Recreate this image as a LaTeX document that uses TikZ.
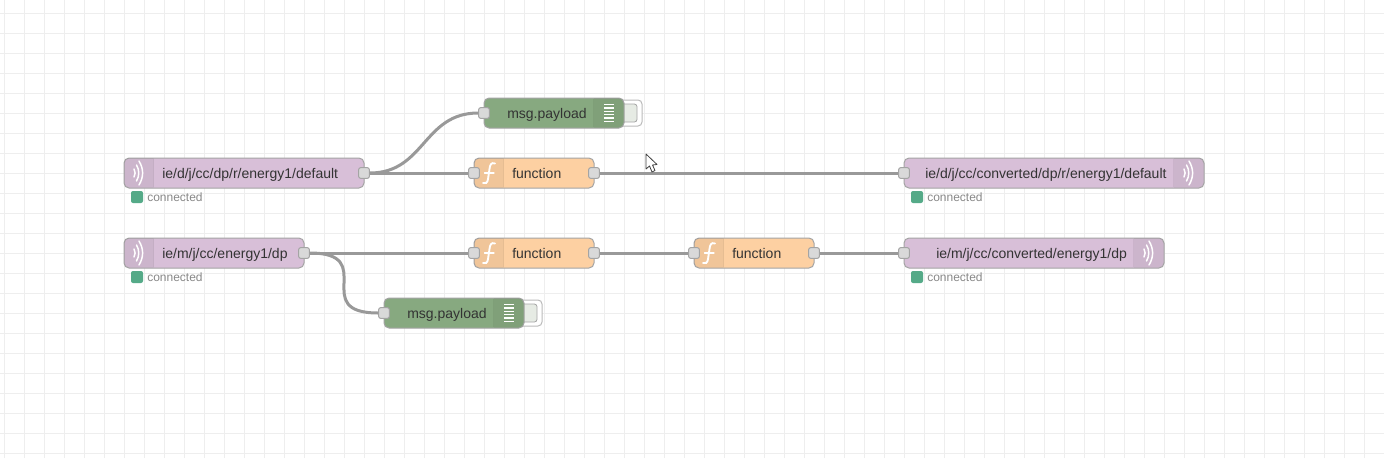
\documentclass[tikz,border=0pt]{standalone}
\usepackage{fontspec}
\setmainfont{Liberation Sans}
\definecolor{gridc}{HTML}{EEEEEE}
\definecolor{linkc}{HTML}{999999}
\definecolor{edgec}{HTML}{A4A4A4}
\definecolor{mqttc}{HTML}{D8BFD8}
\definecolor{funcc}{HTML}{FDD0A2}
\definecolor{dbgc}{HTML}{87A980}
\definecolor{txtc}{HTML}{333333}
\definecolor{statc}{HTML}{55AA88}
\definecolor{sttxt}{HTML}{888888}
\definecolor{btnc}{HTML}{E6EBE4}
\tikzset{
  x=0.75pt,y=-0.75pt,
  flowbody/.style={draw=edgec,line width=0.75pt,rounded corners=3.75pt,minimum height=22.5pt,inner sep=0pt,anchor=north west,xshift=-0.375pt,yshift=0.375pt},
  mqttbody/.style={flowbody,fill=mqttc},
  funcbody/.style={flowbody,fill=funcc},
  dbgbody/.style={flowbody,fill=dbgc},
  iconpart/.style={fill=black,fill opacity=0.05},
  divider/.style={draw=black,draw opacity=0.06,line width=0.75pt},
  port/.style={draw=edgec,fill=black!15,line width=0.75pt,rounded corners=1.5pt,minimum size=8pt,inner sep=0pt},
  wire/.style={draw=linkc,line width=2.25pt},
  label/.style={text=txtc,font=\fontsize{10.5}{12}\selectfont,inner sep=0pt,anchor=base west},
  statusdot/.style={fill=statc,rounded corners=1.5pt,minimum size=9pt,inner sep=0pt},
  statustext/.style={text=sttxt,font=\fontsize{9}{11}\selectfont,inner sep=0pt,anchor=base west},
  iconline/.style={draw=white,line width=1.1pt,line cap=round},
  dbgline/.style={draw=white,line width=1.1pt},
  btnouter/.style={draw=black!27,fill=white,line width=0.75pt,rounded corners=3pt},
  btninner/.style={draw=black!35,fill=btnc,line width=0.6pt,rounded corners=2pt},
}
% tinted icon part on the left (#1 = left edge, #2 = top) or right (#1 = right edge) of a body
\newcommand{\tintleft}[2]{\fill[iconpart] (#1+29.5,#2) [rounded corners=3.75pt] -- (#1,#2) -- (#1,#2+29.5) [sharp corners] -- (#1+29.5,#2+29.5) -- cycle;}
\newcommand{\tintright}[2]{\fill[iconpart] (#1-29.5,#2) [rounded corners=3.75pt] -- (#1,#2) -- (#1,#2+29.5) [sharp corners] -- (#1-29.5,#2+29.5) -- cycle;}
\newcommand{\wifiicon}[2]{%
  \begin{scope}[shift={(#1,#2)}]
    \draw[iconline] (-3,-4) .. controls (-1.5,-1.5) and (-1.5,1.5) .. (-3,4);
    \draw[iconline] (-0.5,-8) .. controls (2.5,-3) and (2.5,3) .. (-0.5,8);
    \draw[iconline] (2,-12) .. controls (6.8,-4) and (6.8,4) .. (2,12);
  \end{scope}}
\newcommand{\funcicon}[2]{%
  \begin{scope}[shift={(#1,#2)}]
    \draw[iconline,line width=1.4pt] (6,-9.5) .. controls (2,-11) and (1,-8) .. (0.5,-4) -- (-1,6) .. controls (-1.5,10) and (-3.5,11) .. (-6,10);
    \draw[iconline,line width=0.9pt] (-4.5,0) -- (5,0);
  \end{scope}}
\newcommand{\dbgicon}[2]{%
  \begin{scope}[shift={(#1,#2)}]
    \foreach \yy in {-8.5,-5.1,-1.7,1.7,5.1,8.5}
      \draw[dbgline] (-5,\yy) -- (5,\yy);
  \end{scope}}
\begin{document}
\begin{tikzpicture}
\useasboundingbox (0,0) rectangle (1384,458);
\fill[white] (0,0) rectangle (1384,458);
\foreach \gx in {4,24,...,1384} \draw[gridc,line width=0.75pt] (\gx,0) -- (\gx,458);
\foreach \gy in {13,33,...,458} \draw[gridc,line width=0.75pt] (0,\gy) -- (1384,\gy);

% debug buttons
\draw[btnouter] (618,100) rectangle (642,126);
\draw[btninner] (618,104) rectangle (637,122);
\draw[btnouter] (518,300) rectangle (542,326);
\draw[btninner] (518,304) rectangle (537,322);

% bodies
\node[mqttbody,minimum width=180pt] (in1) at (124,158) {};
\node[mqttbody,minimum width=135pt] (in2) at (124,238) {};
\node[funcbody,minimum width=90pt] (f1) at (474,158) {};
\node[funcbody,minimum width=90pt] (f2) at (474,238) {};
\node[funcbody,minimum width=90pt] (f3) at (694,238) {};
\node[dbgbody,minimum width=105pt] (d1) at (484,98) {};
\node[dbgbody,minimum width=105pt] (d2) at (384,298) {};
\node[mqttbody,minimum width=225pt] (out1) at (904,158) {};
\node[mqttbody,minimum width=195pt] (out2) at (904,238) {};

% icon parts
\tintleft{124}{158}
\tintleft{124}{238}
\tintleft{474}{158}
\tintleft{474}{238}
\tintleft{694}{238}
\tintright{623.5}{98}
\tintright{523.5}{298}
\tintright{1203.5}{158}
\tintright{1163.5}{238}
\foreach \dx/\dy in {154/158,154/238,504/158,504/238,724/238,594/98,494/298,1174/158,1134/238}
  \draw[divider] (\dx-0.5,\dy+0.5) -- (\dx-0.5,\dy+28.5);

% icons
\wifiicon{137}{173}
\wifiicon{137}{253}
\wifiicon{1187}{173}
\wifiicon{1147}{253}
\funcicon{489}{173}
\funcicon{489}{253}
\funcicon{709}{253}
\dbgicon{609}{113}
\dbgicon{509}{313}

% labels
\node[label] (l1) at (162,178) {ie/d/j/cc/dp/r/energy1/default};
\node[label] (l2) at (162,258) {ie/m/j/cc/energy1/dp};
\node[label] (l3) at (512,178) {function};
\node[label] (l4) at (512,258) {function};
\node[label] (l5) at (732,258) {function};
\node[label] (l6) at (507,118) {msg.payload};
\node[label] (l7) at (407,318) {msg.payload};
\node[label] (l8) at (925,178) {ie/d/j/cc/converted/dp/r/energy1/default};
\node[label] (l9) at (936,258) {ie/m/j/cc/converted/energy1/dp};

% status
\node[statusdot] (s1) at (137,197) {};
\node[statusdot] (s2) at (137,277) {};
\node[statusdot] (s3) at (917,197) {};
\node[statusdot] (s4) at (917,277) {};
\node[statustext] (t1) at (147,201) {connected};
\node[statustext] (t2) at (147,281) {connected};
\node[statustext] (t3) at (927,201) {connected};
\node[statustext] (t4) at (927,281) {connected};

% ports
\node[port] (in1o) at (364,173) {};
\node[port] (in2o) at (304,253) {};
\node[port] (f1i) at (474,173) {};
\node[port] (f1o) at (594,173) {};
\node[port] (f2i) at (474,253) {};
\node[port] (f2o) at (594,253) {};
\node[port] (f3i) at (694,253) {};
\node[port] (f3o) at (814,253) {};
\node[port] (d1i) at (484,113) {};
\node[port] (d2i) at (384,313) {};
\node[port] (o1i) at (904,173) {};
\node[port] (o2i) at (904,253) {};

% wires
\draw[wire] (in1o.east) -- (f1i.west);
\draw[wire] (f1o.east) -- (o1i.west);
\draw[wire] (in2o.east) -- (f2i.west);
\draw[wire] (f2o.east) -- (f3i.west);
\draw[wire] (f3o.east) -- (o2i.west);
\draw[wire] (in1o.east) .. controls +(55,0) and +(-55,0) .. (d1i.west);
\draw[wire] (in2o.east) .. controls +(70,0) and +(-70,0) .. (d2i.west);

% pointer
\draw[draw=black!75,fill=white,line width=0.6pt,line join=round] (646,154) -- (646,169) -- (649.5,166) -- (652,172) -- (655,170.5) -- (652.5,165) -- (657,164.5) -- cycle;
\end{tikzpicture}
\end{document}
